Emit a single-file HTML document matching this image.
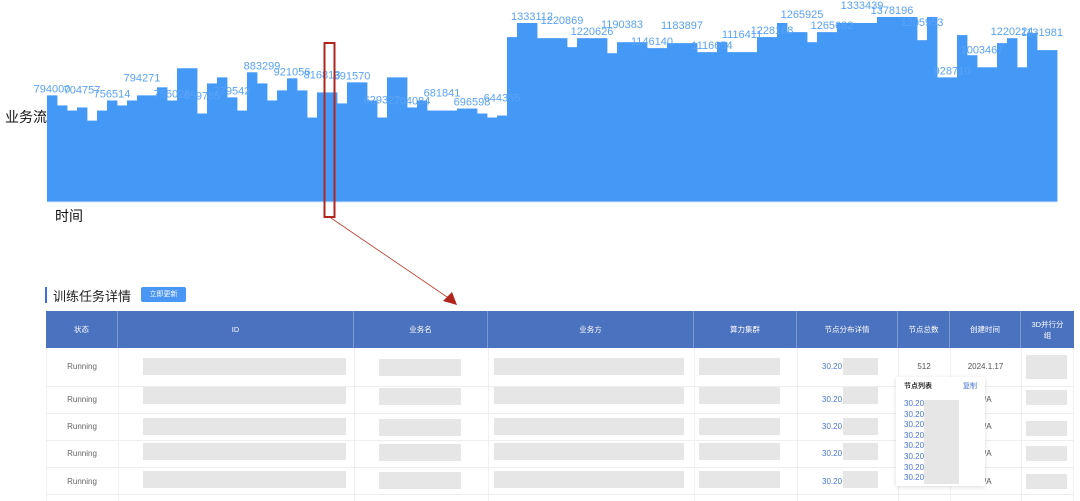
<!DOCTYPE html>
<html><head><meta charset="utf-8"><style>
body{margin:0;width:1080px;height:501px;background:#fff;overflow:hidden;position:relative;font-family:"Liberation Sans","Noto Sans CJK SC",sans-serif}
.a{position:absolute}
.hd{position:absolute;top:311px;height:37px;background:#4b72be;color:#fff;font-size:7.5px;display:flex;align-items:center;justify-content:center;text-align:center;border-right:1px solid #7f9ad0;box-sizing:border-box;line-height:11px}
.g{position:absolute;background:#e6e6e6}
.run{position:absolute;left:46px;width:72px;text-align:center;font-size:8px;color:#666}
.rl{position:absolute;left:46px;width:1028px;height:1px;background:#eeeeee}
.vl{position:absolute;top:348px;width:1px;height:153px;background:#f0f0f0}
.ip{position:absolute;font-size:8px;color:#4a76d6}
</style></head><body>
<svg id="chart" class="a" style="left:0;top:0;z-index:5;pointer-events:none" width="1080" height="320">
<g id="bars"></g><g id="lbls"></g>
<line x1="47" y1="202" x2="1057" y2="202" stroke="#d9e6f7" stroke-width="1"/>
<text x="5" y="122" font-size="14" font-family="Liberation Sans,Noto Sans CJK SC,sans-serif" fill="#111">业务流</text>
<text x="55" y="221" font-size="14" font-family="Liberation Sans,Noto Sans CJK SC,sans-serif" fill="#111">时间</text>
<rect x="324.5" y="43" width="10" height="174" fill="none" stroke="#b0261e" stroke-width="2"/>
<line x1="331" y1="218" x2="450" y2="299" stroke="#c0392b" stroke-width="0.8"/>
<polygon points="457,305 443,301 452,292" fill="#b0261e"/>
</svg>

<div class="a" style="left:45px;top:287px;width:2px;height:16px;background:#3f6fd8"></div>
<div class="a" style="left:53px;top:286px;font-size:13px;color:#222">训练任务详情</div>
<div class="a" style="left:141px;top:287px;width:45px;height:15px;background:#4a96f5;border-radius:2px;color:#fff;font-size:7px;line-height:15px;text-align:center">立即更新</div>

<div class="hd" style="left:46px;width:72px">状态</div>
<div class="hd" style="left:118px;width:236px">ID</div>
<div class="hd" style="left:354px;width:134px">业务名</div>
<div class="hd" style="left:488px;width:206px">业务方</div>
<div class="hd" style="left:694px;width:103px">算力集群</div>
<div class="hd" style="left:797px;width:101px">节点分布详情</div>
<div class="hd" style="left:898px;width:52px">节点总数</div>
<div class="hd" style="left:950px;width:71px">创建时间</div>
<div class="hd" style="left:1021px;width:53px;border-right:none">3D并行分<br>组</div>

<div class="vl" style="left:46px"></div><div class="vl" style="left:118px"></div><div class="vl" style="left:354px"></div><div class="vl" style="left:488px"></div><div class="vl" style="left:694px"></div><div class="vl" style="left:797px"></div><div class="vl" style="left:898px"></div><div class="vl" style="left:950px"></div><div class="vl" style="left:1021px"></div><div class="vl" style="left:1073px"></div>
<div class="rl" style="top:386px"></div><div class="rl" style="top:413px"></div><div class="rl" style="top:440px"></div><div class="rl" style="top:467px"></div><div class="rl" style="top:494px"></div>

<div id="rows"></div>

<div class="a" style="left:898px;width:52px;top:362px;text-align:center;font-size:8px;color:#555">512</div>
<div class="a" style="left:950px;width:71px;top:362px;text-align:center;font-size:8px;color:#555">2024.1.17</div>
<div class="g" style="left:1026px;top:355px;width:41px;height:24px"></div>

<div class="a" style="left:896px;top:377px;width:89px;height:109px;background:#fff;box-shadow:0 1px 5px rgba(0,0,0,0.15);border-radius:2px">
<div class="a" style="left:8px;top:4px;font-size:7px;color:#333;font-weight:bold">节点列表</div>
<div class="a" style="left:67px;top:4px;font-size:7px;color:#4a76d6">复制</div>
<div class="g" style="left:28px;top:23px;width:35px;height:84px"></div>
<div id="plist"></div>
</div>

<script>
// chart data
const values=[794000,719000,681000,704000,606000,681000,756000,719000,756000,794000,794000,854000,756000,996000,996000,659000,883000,928000,779000,681000,966000,883000,756000,831000,921000,831000,629000,816000,816000,734000,891000,891000,756000,629000,928000,928000,704000,756000,681000,681000,681000,696000,696000,659000,629000,644000,1228000,1333000,1333000,1220000,1220000,1220000,1153000,1220000,1220000,1220000,1108000,1190000,1190000,1190000,1146000,1146000,1183000,1183000,1183000,1116000,1116000,1190000,1116000,1116000,1116000,1228000,1228000,1333000,1265000,1265000,1190000,1265000,1265000,1333000,1333000,1333000,1333000,1378000,1378000,1378000,1378000,1205000,1378000,928000,928000,1243000,1093000,1003000,1003000,1183000,1220000,1003000,1258000,1131000,1131000];
const yTicks=[0,1400000];
const x0=47,x1=1057,yBase=202,yTop=14;
const bw=(x1-x0)/values.length;
function xs(i){return x0+i*bw;}
function ys(v){return yBase-(v-yTicks[0])/(yTicks[1]-yTicks[0])*(yBase-yTop);}
const NS='http://www.w3.org/2000/svg';
const bg=document.getElementById('bars'),lg=document.getElementById('lbls');
values.forEach((v,i)=>{
 const r=document.createElementNS(NS,'rect');
 
 
 r.setAttribute('x',xs(i));r.setAttribute('y',ys(v));r.setAttribute('width',bw+0.4);r.setAttribute('height',yBase-ys(v));r.setAttribute('fill','#4499f7');
 bg.appendChild(r);
 if(i%3===0){
  const t=document.createElementNS(NS,'text');
  
  
  t.setAttribute('x',xs(i)+bw/2);t.setAttribute('y',ys(v)-3-(i%2)*11);t.setAttribute('text-anchor','middle');
  t.setAttribute('font-size','11');t.setAttribute('fill','#5aa3f7');t.setAttribute('font-family','Liberation Sans,sans-serif');
  t.textContent=String(v+(i*7919)%1000);
  lg.appendChild(t);
 }
});
// table rows
const rowsTop=[358,387,418,443,471];
const rowsMid=[362,395,422,449,477];
const ipBoxX=[843,843,843,843,843];
const rowsEl=document.getElementById('rows');
rowsTop.forEach((t,i)=>{
 const add=(html)=>{rowsEl.insertAdjacentHTML('beforeend',html);};
 add('<div class="run" style="top:'+rowsMid[i]+'px">Running</div>');
 add('<div class="g" style="left:143px;top:'+t+'px;width:203px;height:17px"></div>');
 add('<div class="g" style="left:379px;top:'+(t+1)+'px;width:82px;height:17px"></div>');
 add('<div class="g" style="left:494px;top:'+t+'px;width:190px;height:17px"></div>');
 add('<div class="g" style="left:699px;top:'+t+'px;width:81px;height:17px"></div>');
 add('<div class="ip" style="left:822px;top:'+rowsMid[i]+'px">30.20</div>');
 add('<div class="g" style="left:'+ipBoxX[i]+'px;top:'+(t)+'px;width:35px;height:17px"></div>');
 if(i>0){
  add('<div class="a" style="left:984px;top:'+rowsMid[i]+'px;font-size:8px;color:#555">/A</div>');
  add('<div class="g" style="left:1026px;top:'+(t+3)+'px;width:41px;height:15px"></div>');
 }
});
const pl=document.getElementById('plist');
for(let k=0;k<8;k++){
 const d=document.createElement('div');
 
 
 d.className='ip';d.style.left='8px';d.style.top=(22+k*10.6)+'px';d.textContent='30.20';
 pl.appendChild(d);
}
</script>
</body></html>
